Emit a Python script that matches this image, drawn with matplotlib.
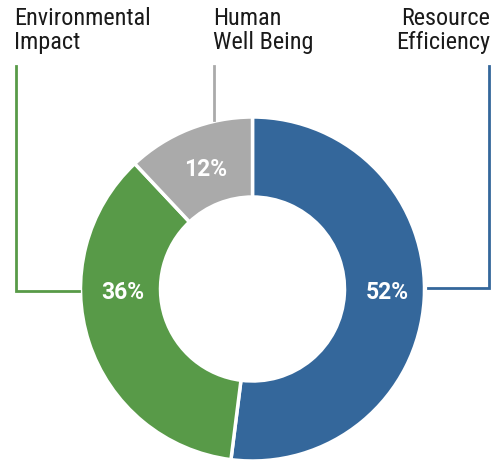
import matplotlib
matplotlib.use("Agg")
import matplotlib.pyplot as plt

categories = ["Resource\nEfficiency", "Environmental\nImpact", "Human\nWell Being"]
shares = [52, 36, 12]
colors = ["#34679b", "#589a48", "#aaaaaa"]

W, H = 495, 462
fig = plt.figure(figsize=(W / 100, H / 100), dpi=100)
ax = fig.add_axes([0, 0, 1, 1])

cx, cy = 252.5, H - 289
r_out, r_in = 172, 92

ax.pie(shares, colors=colors, startangle=90, counterclock=False,
       center=(cx, cy), radius=r_out, frame=True,
       wedgeprops=dict(width=r_out - r_in, edgecolor="white", linewidth=2.5))
ax.set_xlim(0, W)
ax.set_ylim(0, H)
ax.set_aspect("equal")
ax.axis("off")

title_font = "Roboto Condensed"
title_fs = 17.5
txt_color = "#1a1a1a"

# category titles
ax.text(14, H - 7, categories[1], ha="left", va="top", fontsize=title_fs,
        family=title_font, color=txt_color, linespacing=1.06)
ax.text(213, H - 7, categories[2], ha="left", va="top", fontsize=title_fs,
        family=title_font, color=txt_color, linespacing=1.06)
ax.text(490, H - 7, categories[0], ha="right", va="top", fontsize=title_fs,
        family=title_font, color=txt_color, linespacing=1.06,
        multialignment="right")

# leader lines
lw = 2
ax.plot([16, 16, 79], [H - 66, H - 291, H - 291], color=colors[1], lw=lw,
        solid_joinstyle="miter")
ax.plot([489, 489, 428], [H - 66, H - 288, H - 288], color=colors[0], lw=lw,
        solid_joinstyle="miter")
ax.plot([214, 214], [H - 66, H - 120], color=colors[2], lw=lw)

# percentage labels
pct_pos = [(387.5, 290), (123, 290), (206, 167)]
for val, (x, y) in zip(shares, pct_pos):
    ax.text(x, H - y, f"{val}%", ha="center", va="center_baseline",
            fontsize=16.5, family="Roboto", weight="bold", color="white")

fig.savefig("out.png", dpi=100)
